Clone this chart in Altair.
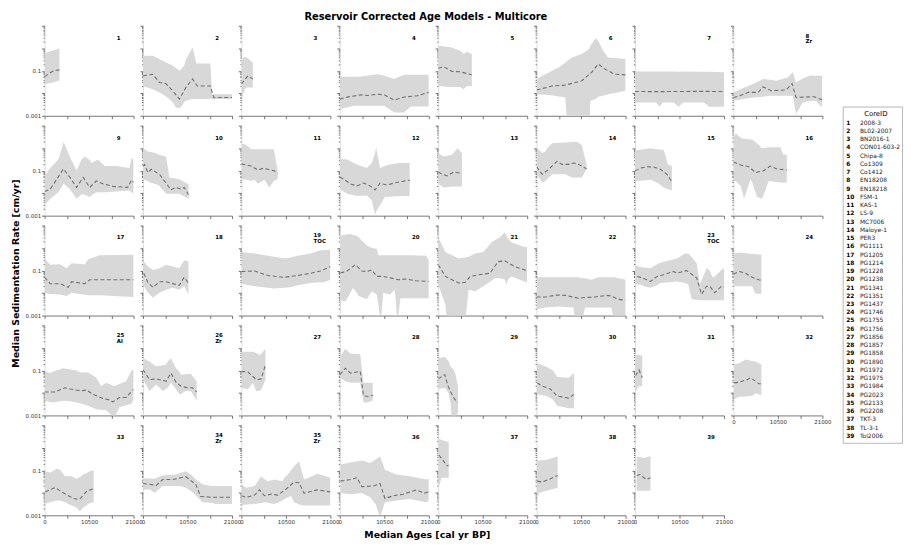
import altair as alt
import pandas as pd

# ---------------- data: (age, lower, upper) band and (age, median) per core ----------------
b01 = [(0, 0.025, 0.6), (1000, 0.028, 0.7), (2000, 0.03, 0.8), (3000, 0.035, 0.9), (3500, 0.036, 1.0)]
m01 = [(0, 0.055), (1000, 0.075), (2100, 0.1), (3500, 0.11)]
b02 = [(0, 0.021, 0.47), (2333, 0.015, 0.47), (4667, 0.009, 0.28), (6200, 0.0055, 0.2), (7000, 0.004, 0.17),
       (7800, 0.0023, 0.13), (8600, 0.0023, 0.1), (8900, 0.0023, 0.11), (9700, 0.004, 0.17), (10100, 0.0047, 0.3),
       (11700, 0.0055, 1.1), (12600, 0.0055, 0.21), (15900, 0.0055, 0.21), (16300, 0.0055, 0.009), (21000, 0.0055, 0.009)]
m02 = [(0, 0.06), (2300, 0.07), (3900, 0.03), (5400, 0.027), (7000, 0.013), (8600, 0.0055), (10100, 0.018),
       (11700, 0.043), (12800, 0.021), (15900, 0.021), (16700, 0.0065), (21000, 0.0065)]
b03 = [(0, 0.0055, 0.33), (800, 0.015, 0.42), (1200, 0.018, 0.4), (2700, 0.018, 0.23)]
m03 = [(0, 0.026), (1556, 0.06), (2700, 0.043)]
b04 = [(0, 0.002, 0.054), (3500, 0.0028, 0.054), (5055, 0.0028, 0.055), (8944, 0.0028, 0.07), (10500, 0.0028, 0.06),
       (12833, 0.0014, 0.043), (15166, 0.0014, 0.066), (16722, 0.0026, 0.066), (21000, 0.0026, 0.066)]
m04 = [(0, 0.0055), (1944, 0.0069), (5055, 0.0085), (6611, 0.008), (8944, 0.009), (10500, 0.0085), (12833, 0.005),
       (15166, 0.0068), (18278, 0.0078), (21000, 0.011)]
b05 = [(0, 0.021, 1.3), (2900, 0.019, 1.1), (5211, 0.019, 0.77), (5989, 0.015, 0.55), (6767, 0.021, 0.7), (7933, 0.021, 0.55)]
m05 = [(0, 0.13), (1322, 0.15), (3266, 0.093), (5211, 0.09), (7933, 0.066)]
b06 = [(0, 0.009, 0.043), (2100, 0.0085, 0.07), (4433, 0.0078, 0.12), (5211, 0.0072, 0.14), (6767, 0.0065, 0.23),
       (7300, 0.0003, 0.28), (8322, 0.0003, 0.39), (10656, 0.0003, 0.55), (11822, 0.0003, 0.77), (12500, 0.0003, 1.0),
       (12700, 0.0047, 1.3), (13922, 0.0055, 2.8), (14544, 0.007, 2.1), (15711, 0.0078, 0.77), (16878, 0.009, 0.39),
       (21000, 0.013, 0.33)]
m06 = [(0, 0.014), (3655, 0.021), (6767, 0.023), (10656, 0.036), (12989, 0.085), (14544, 0.2), (16100, 0.12),
       (18433, 0.07), (21000, 0.066)]
b07 = [(0, 0.0039, 0.093), (5000, 0.0039, 0.093), (5800, 0.0025, 0.093), (6500, 0.0039, 0.093), (9100, 0.0039, 0.093),
       (10300, 0.0025, 0.09), (11400, 0.0039, 0.093), (16300, 0.0039, 0.09), (17500, 0.0025, 0.09), (21000, 0.0025, 0.085)]
m07 = [(0, 0.012), (5000, 0.0118), (10000, 0.012), (15000, 0.0122), (21000, 0.012)]
b08 = [(0, 0.0047, 0.011), (2333, 0.0055, 0.017), (4667, 0.0065, 0.026), (7000, 0.007, 0.043), (8556, 0.0078, 0.04),
       (10111, 0.0078, 0.036), (12833, 0.0078, 0.05), (14000, 0.0078, 0.085), (14778, 0.0012, 0.03),
       (16333, 0.0039, 0.045), (17889, 0.0045, 0.06), (19444, 0.0047, 0.06), (21000, 0.0023, 0.06)]
m08 = [(0, 0.0065), (1556, 0.0078), (3500, 0.011), (5833, 0.011), (7000, 0.019), (8944, 0.013), (12444, 0.014),
       (13844, 0.027), (14778, 0.0065), (17111, 0.0068), (19055, 0.007), (21000, 0.0051)]
b09 = [(0, 0.0029, 0.059), (1322, 0.0056, 0.13), (3266, 0.011, 0.31), (4500, 0.026, 1.9), (5989, 0.015, 0.4),
       (7544, 0.0056, 0.098), (8711, 0.009, 0.31), (9489, 0.0085, 0.43), (10656, 0.0067, 0.3), (11044, 0.008, 0.22),
       (12211, 0.011, 0.28), (12600, 0.011, 0.31), (14155, 0.011, 0.16), (16878, 0.012, 0.16), (19989, 0.013, 0.13),
       (20533, 0.011, 0.37), (21000, 0.0093, 0.31)]
m09 = [(0, 0.012), (1322, 0.015), (2878, 0.042), (4433, 0.12), (5989, 0.05), (7544, 0.018), (9100, 0.05),
       (10656, 0.018), (12211, 0.035), (13766, 0.026), (16100, 0.02), (19600, 0.018), (20533, 0.039), (21000, 0.03)]
b10 = [(0, 0.042, 1.0), (1167, 0.035, 0.72), (1556, 0.03, 0.7), (3111, 0.025, 0.6), (3889, 0.021, 0.5),
       (5444, 0.0093, 0.43), (6222, 0.0093, 0.05), (8556, 0.0093, 0.042), (10500, 0.006, 0.026), (10733, 0.0056, 0.026)]
m10 = [(0, 0.16), (389, 0.19), (1167, 0.082), (1944, 0.115), (3889, 0.069), (5055, 0.035), (6611, 0.014),
       (7778, 0.018), (8944, 0.015), (9722, 0.018), (10733, 0.0085)]
b11 = [(0, 0.042, 1.66), (1167, 0.039, 1.4), (2333, 0.035, 0.9), (3111, 0.039, 0.9), (3889, 0.026, 0.9),
       (5444, 0.039, 0.9), (6611, 0.018, 0.9), (7622, 0.035, 0.9), (8556, 0.042, 0.098)]
m11 = [(0, 0.2), (2333, 0.16), (3889, 0.107), (5055, 0.126), (6222, 0.115), (7778, 0.098), (8556, 0.076)]
b12 = [(0, 0.015, 0.33), (1711, 0.0093, 0.31), (4044, 0.0074, 0.19), (6378, 0.0079, 0.13), (7544, 0.0048, 0.22),
       (8322, 0.0011, 0.6), (8555, 0.0015, 1.17), (9489, 0.0029, 0.13), (10655, 0.0067, 0.16), (11822, 0.007, 0.19),
       (14155, 0.0074, 0.22), (16489, 0.0074, 0.22)]
m12 = [(0, 0.052), (933, 0.042), (2489, 0.026), (4044, 0.021), (5600, 0.028), (7155, 0.021), (8322, 0.014),
       (9489, 0.028), (11044, 0.023), (13378, 0.03), (16489, 0.038)]
b13 = [(0, 0.026, 0.6), (1322, 0.018, 0.43), (3266, 0.02, 0.51), (4589, 0.02, 1.0), (5600, 0.02, 0.6)]
m13 = [(0, 0.087), (933, 0.069), (2100, 0.059), (3655, 0.087), (5600, 0.076)]
b14 = [(0, 0.069, 1.1), (1322, 0.03, 0.6), (2100, 0.035, 0.72), (2489, 0.042, 1.0), (3655, 0.069, 1.66),
       (6767, 0.069, 1.78), (8322, 0.05, 1.9), (9489, 0.05, 1.95), (10656, 0.05, 1.4), (11822, 0.12, 0.19)]
m14 = [(0, 0.15), (1322, 0.069), (2878, 0.115), (4822, 0.26), (5989, 0.19), (7544, 0.19), (8711, 0.22),
       (9878, 0.19), (11822, 0.12)]
b15 = [(0, 0.035, 0.79), (2100, 0.037, 0.9), (3655, 0.039, 1.0), (5211, 0.03, 0.9), (6767, 0.018, 0.84),
       (7778, 0.015, 0.19), (8711, 0.013, 0.16)]
m15 = [(0, 0.098), (1322, 0.13), (2878, 0.15), (4433, 0.145), (5989, 0.115), (7544, 0.069), (8711, 0.032)]
b16 = [(0, 0.035, 3.0), (544, 0.035, 4.5), (1711, 0.021, 3.0), (2100, 0.012, 2.7), (2489, 0.0056, 2.6),
       (4044, 0.042, 2.4), (4433, 0.03, 2.4), (5600, 0.0067, 1.6), (6767, 0.0056, 1.0), (8322, 0.035, 1.1),
       (11044, 0.03, 1.1), (11822, 0.03, 0.51), (12600, 0.03, 0.51)]
m16 = [(0, 0.24), (2100, 0.17), (3655, 0.15), (5211, 0.082), (7155, 0.1), (8711, 0.16), (10266, 0.12), (12600, 0.107)]
b17 = [(0, 0.0103, 0.34), (1322, 0.009, 0.18), (3655, 0.0087, 0.19), (5211, 0.0074, 0.126), (6378, 0.0103, 0.21),
       (9100, 0.0087, 0.19), (9489, 0.0085, 0.19), (10266, 0.008, 0.32), (12989, 0.0079, 0.48), (21000, 0.0067, 0.51)]
m17 = [(0, 0.05), (1322, 0.026), (3655, 0.026), (5600, 0.018), (6378, 0.032), (9489, 0.026), (10656, 0.039), (21000, 0.039)]
b18 = [(0, 0.024, 0.29), (1167, 0.0103, 0.15), (2333, 0.0063, 0.107), (3889, 0.0103, 0.126), (5444, 0.014, 0.18),
       (7000, 0.017, 0.15), (8556, 0.014, 0.126), (9722, 0.02, 0.29), (10733, 0.0087, 0.25)]
m18 = [(156, 0.076), (1167, 0.03), (2333, 0.018), (3889, 0.032), (5444, 0.032), (8556, 0.022), (9722, 0.05), (10733, 0.028)]
b19 = [(0, 0.026, 0.67), (3111, 0.02, 0.57), (7778, 0.016, 0.41), (10111, 0.017, 0.34), (11667, 0.018, 0.38),
       (13222, 0.022, 0.45), (16333, 0.028, 0.57), (18667, 0.03, 0.79), (19444, 0.03, 0.8), (21000, 0.039, 0.87)]
m19 = [(0, 0.09), (3111, 0.096), (6222, 0.06), (10111, 0.05), (13222, 0.06), (16333, 0.076), (18667, 0.096), (21000, 0.15)]
b20 = [(156, 0.0048, 3.5), (1322, 0.0042, 4.0), (2489, 0.01, 4.2), (3111, 0.017, 3.8), (4044, 0.01, 3.5),
       (4433, 0.0074, 3.0), (6378, 0.0053, 1.3), (7544, 0.012, 1.0), (8711, 0.0087, 0.93), (9100, 0.003, 0.48),
       (9644, 0.0005, 0.48), (10266, 0.0103, 0.48), (11822, 0.0087, 0.48), (12989, 0.0145, 0.48), (13611, 0.0005, 0.48),
       (14311, 0.0059, 0.48), (16489, 0.0059, 0.48), (20378, 0.0059, 0.45), (21000, 0.0059, 0.29)]
m20 = [(156, 0.077), (1711, 0.096), (3655, 0.18), (5211, 0.096), (6378, 0.09), (7544, 0.107), (8711, 0.055),
       (10266, 0.055), (12211, 0.046), (13766, 0.039), (15711, 0.042), (18044, 0.035), (21000, 0.033)]
b21 = [(0, 0.024, 3.0), (1711, 0.003, 0.67), (2100, 0.0005, 0.6), (3266, 0.0005, 0.48), (4822, 0.0005, 0.34),
       (6378, 0.0005, 0.38), (7155, 0.014, 0.41), (8711, 0.012, 0.57), (10656, 0.02, 0.67), (12600, 0.035, 1.8),
       (13378, 0.047, 2.2), (14544, 0.045, 3.0), (15711, 0.04, 5.0), (16100, 0.024, 3.5), (16489, 0.04, 2.6),
       (17267, 0.055, 1.8), (20378, 0.033, 1.1), (21000, 0.028, 1.1)]
m21 = [(0, 0.18), (1711, 0.055), (3266, 0.039), (4822, 0.028), (6378, 0.03), (7544, 0.055), (9489, 0.065),
       (12211, 0.076), (14155, 0.25), (15711, 0.27), (18044, 0.15), (20378, 0.107), (21000, 0.1)]
b22 = [(0, 0.0019, 0.05), (2100, 0.0023, 0.05), (5211, 0.0025, 0.05), (8711, 0.0023, 0.05), (9100, 0.0005, 0.05),
       (9878, 0.0005, 0.05), (10656, 0.0005, 0.045), (11433, 0.0023, 0.045), (12989, 0.0023, 0.039),
       (14544, 0.0023, 0.05), (17656, 0.0023, 0.05), (18278, 0.0005, 0.05), (21000, 0.0005, 0.039)]
m22 = [(0, 0.0067), (2100, 0.0067), (4822, 0.0082), (6767, 0.0079), (9878, 0.0059), (11433, 0.0063), (13766, 0.0067),
       (16489, 0.0079), (17656, 0.0074), (19211, 0.0053), (21000, 0.0048)]
b23 = [(0, 0.024, 0.17), (1322, 0.024, 0.14), (2100, 0.02, 0.135), (3655, 0.017, 0.126), (5211, 0.022, 0.19),
       (5989, 0.028, 0.22), (8322, 0.03, 0.29), (9878, 0.033, 0.34), (11822, 0.028, 0.57), (12600, 0.024, 0.57),
       (13378, 0.0053, 0.4), (14544, 0.005, 0.21), (15322, 0.0048, 0.024), (16878, 0.0048, 0.126),
       (17500, 0.0048, 0.107), (18433, 0.0048, 0.047), (20378, 0.0048, 0.107), (21000, 0.0048, 0.126)]
m23 = [(544, 0.055), (2100, 0.044), (3655, 0.033), (5211, 0.055), (6767, 0.065), (9100, 0.091), (9878, 0.076),
       (12211, 0.1), (14544, 0.047), (15711, 0.0087), (16878, 0.02), (17656, 0.02), (18822, 0.0103), (20378, 0.02),
       (21000, 0.018)]
b24 = [(0, 0.02, 0.57), (1322, 0.02, 0.63), (4433, 0.02, 0.55), (5211, 0.0093, 0.53), (6611, 0.0093, 0.52)]
m24 = [(0, 0.069), (1322, 0.091), (2878, 0.076), (4433, 0.05), (5989, 0.039), (6611, 0.037)]
b25 = [(0, 0.0045, 0.091), (1322, 0.004, 0.076), (2100, 0.0038, 0.09), (4433, 0.0045, 0.126), (6378, 0.0042, 0.107),
       (7544, 0.0038, 0.1), (8322, 0.0035, 0.081), (10266, 0.0027, 0.081), (12211, 0.0019, 0.047),
       (13378, 0.0018, 0.02), (14544, 0.0017, 0.028), (16489, 0.0008, 0.02), (17656, 0.0023, 0.025),
       (19211, 0.0028, 0.033), (20378, 0.0032, 0.09), (20766, 0.004, 0.107), (21000, 0.0063, 0.1)]
m25 = [(0, 0.011), (2489, 0.011), (4822, 0.017), (5989, 0.015), (8711, 0.0123), (9878, 0.0135), (11433, 0.0087),
       (13766, 0.0056), (15322, 0.0049), (16100, 0.004), (17656, 0.0063), (19211, 0.0063), (21000, 0.0144)]
b26 = [(0, 0.039, 0.35), (1556, 0.0123, 0.25), (3111, 0.024, 0.15), (4667, 0.0123, 0.17), (5444, 0.015, 0.18),
       (5833, 0.017, 0.25), (6611, 0.028, 0.35), (7778, 0.015, 0.126), (8556, 0.0087, 0.09), (8944, 0.009, 0.065),
       (10111, 0.0123, 0.068), (11278, 0.0123, 0.071), (12678, 0.0045, 0.033)]
m26 = [(0, 0.107), (1556, 0.039), (3111, 0.042), (5444, 0.033), (6611, 0.076), (7778, 0.03), (8944, 0.02),
       (10500, 0.017), (11667, 0.017), (12678, 0.011)]
b27 = [(0, 0.017, 0.68), (1556, 0.0144, 0.68), (2722, 0.028, 0.68), (3500, 0.0123, 0.6), (4278, 0.0125, 0.48),
       (4667, 0.0135, 0.55), (5678, 0.039, 0.93)]
m27 = [(0, 0.091), (1556, 0.085), (3500, 0.039), (4667, 0.042), (5678, 0.18)]
b28 = [(0, 0.047, 0.41), (1322, 0.033, 0.93), (2489, 0.028, 0.56), (4822, 0.028, 0.53), (5600, 0.0038, 0.028),
       (6378, 0.0038, 0.028), (7778, 0.0045, 0.028)]
m28 = [(0, 0.065), (1322, 0.126), (2489, 0.076), (4822, 0.091), (5600, 0.0074), (6767, 0.0069), (7778, 0.0079)]
b29 = [(0, 0.015, 0.35), (1556, 0.017, 0.41), (2489, 0.0097, 0.25), (2878, 0.004, 0.15), (3266, 0.0006, 0.13),
       (3655, 0.0006, 0.107), (4044, 0.0006, 0.07), (4667, 0.0014, 0.02)]
m29 = [(0, 0.042), (1556, 0.065), (2333, 0.02), (3111, 0.0097), (3889, 0.0053), (4667, 0.0038)]
b30 = [(0, 0.0087, 0.22), (2100, 0.0074, 0.15), (3655, 0.0055, 0.107), (4044, 0.0045, 0.09), (4822, 0.0027, 0.051),
       (7544, 0.0021, 0.047), (8867, 0.0021, 0.076)]
m30 = [(156, 0.028), (1322, 0.02), (3266, 0.015), (4822, 0.0074), (6767, 0.0063), (7544, 0.0059), (8867, 0.0087)]
b31 = [(0, 0.0097, 0.48), (778, 0.02, 0.48), (1711, 0.02, 0.45)]
m31 = [(156, 0.059), (933, 0.107), (1711, 0.047)]
b32 = [(156, 0.0053, 0.19), (1322, 0.0067, 0.21), (2878, 0.007, 0.31), (4433, 0.0074, 0.26), (5211, 0.0097, 0.25),
       (6611, 0.0079, 0.18)]
m32 = [(156, 0.028), (1322, 0.03), (3266, 0.039), (4044, 0.047), (5211, 0.033), (5989, 0.0254), (6611, 0.0254)]
b33 = [(0, 0.0032, 0.091), (1322, 0.0038, 0.081), (2878, 0.0045, 0.118), (3655, 0.0045, 0.107), (4822, 0.0038, 0.055),
       (6378, 0.0027, 0.055), (7544, 0.0022, 0.042), (8322, 0.0015, 0.05), (9100, 0.0022, 0.065),
       (9878, 0.0027, 0.075), (10656, 0.0035, 0.091), (11589, 0.0038, 0.1)]
m33 = [(156, 0.011), (1167, 0.0135), (2489, 0.017), (4044, 0.011), (5600, 0.0074), (7155, 0.0053), (8322, 0.0053),
       (10033, 0.0123), (11589, 0.015)]
b34 = [(0, 0.0135, 0.044), (1556, 0.0144, 0.043), (2722, 0.0097, 0.042), (4667, 0.02, 0.059), (7778, 0.02, 0.065),
       (8556, 0.02, 0.075), (10111, 0.017, 0.091), (11278, 0.0123, 0.065), (12444, 0.008, 0.04),
       (14000, 0.0038, 0.024), (16333, 0.0035, 0.02), (17111, 0.0032, 0.02), (21000, 0.0032, 0.02)]
m34 = [(0, 0.026), (1556, 0.024), (3111, 0.0215), (4667, 0.039), (7000, 0.039), (10111, 0.052), (12444, 0.024),
       (13611, 0.0069), (16333, 0.0063), (21000, 0.0063)]
b35 = [(0, 0.0027, 0.024), (1167, 0.003, 0.017), (3111, 0.0032, 0.02), (4667, 0.0035, 0.055), (5444, 0.0038, 0.04),
       (6222, 0.0036, 0.033), (7778, 0.0032, 0.039), (9722, 0.0045, 0.033), (10111, 0.0053, 0.045),
       (11278, 0.0065, 0.076), (11667, 0.0074, 0.1), (12444, 0.0038, 0.15), (13611, 0.003, 0.25),
       (14778, 0.0027, 0.039), (16722, 0.0027, 0.055), (17889, 0.0027, 0.071), (21000, 0.0027, 0.047)]
m35 = [(0, 0.0074), (1167, 0.0063), (3111, 0.0079), (4278, 0.0135), (5444, 0.0074), (7000, 0.0087), (8556, 0.0079),
       (10500, 0.0144), (12444, 0.03), (13611, 0.028), (14778, 0.0097), (17889, 0.0135), (21000, 0.011)]
b36 = [(156, 0.0097, 0.18), (2489, 0.0087, 0.22), (5211, 0.0097, 0.27), (7155, 0.0063, 0.21), (8500, 0.003, 0.3),
       (9489, 0.0008, 0.41), (10655, 0.0038, 0.107), (13378, 0.0045, 0.065), (16489, 0.0053, 0.055),
       (20378, 0.0038, 0.039), (21000, 0.0045, 0.042)]
m36 = [(156, 0.033), (2489, 0.039), (4044, 0.047), (5211, 0.0188), (7933, 0.02), (9489, 0.026), (10655, 0.0056),
       (12600, 0.0074), (14933, 0.0087), (18044, 0.0135), (19989, 0.0097), (21000, 0.011)]
b37 = [(0, 0.0145, 2.6), (778, 0.047, 2.2), (2489, 0.047, 1.8)]
m37 = [(156, 0.48), (1322, 0.25), (2100, 0.16), (2489, 0.16)]
b38 = [(0, 0.0074, 0.25), (389, 0.0074, 0.27), (544, 0.0097, 0.27), (2100, 0.012, 0.29), (4978, 0.017, 0.41)]
m38 = [(156, 0.033), (1322, 0.03), (3266, 0.042), (4978, 0.059)]
b39 = [(389, 0.0123, 0.35), (544, 0.0123, 0.41), (2100, 0.0123, 0.35), (3655, 0.0123, 0.43)]
m39 = [(389, 0.059), (1167, 0.065), (2100, 0.047), (2722, 0.039), (3655, 0.047)]

core_names = ["2008-3", "BL02-2007", "BN2016-1", "CON01-603-2", "Chipa-8", "Co1309", "Co1412", "EN18208",
              "EN18218", "FSM-1", "KAS-1", "LS-9", "MC7006", "Maloye-1", "PER3", "PG1111", "PG1205", "PG1214",
              "PG1228", "PG1238", "PG1341", "PG1351", "PG1437", "PG1746", "PG1755", "PG1756", "PG1856",
              "PG1857", "PG1858", "PG1890", "PG1972", "PG1975", "PG1984", "PG2023", "PG2133", "PG2208",
              "TKT-3", "TL-3-1", "Tol2006"]
proxy_notes = {8: "Zr", 19: "TOC", 23: "TOC", 25: "Al", 26: "Zr", 34: "Zr", 35: "Zr"}
chart_title = "Reservoir Corrected Age Models - Multicore"

x_ticks = [0, 5250, 10500, 15750, 21000]
y_ticks = [m * 10.0 ** e for e in range(-3, 1) for m in range(1, 10)] + [10.0]

bands = [b01, b02, b03, b04, b05, b06, b07, b08, b09, b10, b11, b12, b13, b14, b15, b16, b17, b18, b19, b20,
         b21, b22, b23, b24, b25, b26, b27, b28, b29, b30, b31, b32, b33, b34, b35, b36, b37, b38, b39]
meds = [m01, m02, m03, m04, m05, m06, m07, m08, m09, m10, m11, m12, m13, m14, m15, m16, m17, m18, m19, m20,
        m21, m22, m23, m24, m25, m26, m27, m28, m29, m30, m31, m32, m33, m34, m35, m36, m37, m38, m39]

FONT = "DejaVu Sans"
PW, PH = 90, 91
AXC = "#555555"
MAJOR = ("datum.value == 0.001 || datum.value == 0.01 || datum.value == 0.1 "
         "|| datum.value == 1 || datum.value == 10")


def legend_layer():
    """Core-ID list drawn to the right of the top-right panel (its own linear y scale)."""
    leg_df = pd.DataFrame({"idx": list(range(1, 40)),
                           "num": [str(k) for k in range(1, 40)],
                           "name": core_names})
    ls = alt.Scale(domain=[-10.76, 0.16], reverse=True, nice=False, zero=False)
    x0 = 111
    box = alt.Chart(pd.DataFrame({"a": [0]})).mark_rect(
        fill="#ffffff", stroke="#9a9a9a", strokeWidth=0.7).encode(
        x=alt.value(x0), x2=alt.value(x0 + 60),
        y=alt.datum(-0.9, scale=ls, axis=None), y2=alt.datum(39.9))
    ttl = alt.Chart(pd.DataFrame({"t": ["CoreID"]})).mark_text(
        fontSize=7, font=FONT, color="#000000", baseline="middle").encode(
        x=alt.value(x0 + 33), y=alt.datum(0, scale=ls, axis=None), text="t:N")
    num = alt.Chart(leg_df).mark_text(
        align="left", baseline="middle", fontSize=6, fontWeight="bold", font=FONT, color="#000000").encode(
        x=alt.value(x0 + 3), y=alt.Y("idx:Q", scale=ls, axis=None), text="num:N")
    name = alt.Chart(leg_df).mark_text(
        align="left", baseline="middle", fontSize=6, font=FONT, color="#222222",
        limit=42, ellipsis="\u200b").encode(
        x=alt.value(x0 + 17), y=alt.Y("idx:Q", scale=ls, axis=None), text="name:N")
    return alt.layer(box, ttl, num, name)


def make_panel(i):
    col = (i - 1) % 8
    show_y = col == 0
    show_x = i >= 32
    ykw = dict(values=y_ticks, labels=show_y, grid=False, domain=True, domainColor="#c8c8c8",
               domainWidth=0.6, tickColor="#444444", tickWidth=0.8,
               tickSize={"condition": {"test": MAJOR, "value": 3}, "value": 1.5},
               labelExpr="datum.value == 0.001 ? '0.001' : (datum.value == 0.1 ? '0.1' : '')",
               labelFontSize=5.5, labelColor="#333333", labelPadding=1, labelOverlap=False, title=None)
    if i == 17:
        ykw.update(title="Median Sedimentation Rate [cm/yr]", titleX=-29, titleY=48, titleFontSize=9.5,
                   titleFontWeight="bold", titleColor="#000000", titleBaseline="middle", titleAngle=270)
    xkw = dict(values=x_ticks, labels=show_x, grid=False, domainColor=AXC, domainWidth=0.8, tickColor=AXC,
               tickWidth=0.8, tickSize=3, labelFlush=False, labelOverlap=False, labelFontSize=5.5,
               labelColor="#333333", labelPadding=1,
               labelExpr="datum.value == 0 ? '0' : (datum.value == 10500 ? '10500' : (datum.value == 21000 ? '21000' : ''))",
               title=None)
    if i == 36:
        xkw.update(title="Median Ages [cal yr BP]", titleX=88, titleY=19, titleFontSize=9.5,
                   titleFontWeight="bold", titleColor="#000000", titleBaseline="middle")
    xax = alt.Axis(**xkw)
    yax = alt.Axis(**ykw)
    xs = alt.Scale(domain=[0, 21000], nice=False, zero=False)
    ys = alt.Scale(type="log", domain=[0.001, 10], nice=False)

    dfb = pd.DataFrame(bands[i - 1], columns=["age", "lo", "hi"])
    dfm = pd.DataFrame(meds[i - 1], columns=["age", "med"])
    band = alt.Chart(dfb).mark_area(color="#d8d8d8", clip=True, opacity=1).encode(
        x=alt.X("age:Q", scale=xs, axis=xax),
        y=alt.Y("lo:Q", scale=ys, axis=yax),
        y2="hi:Q",
    )
    line = alt.Chart(dfm).mark_line(color="#707070", strokeDash=[4, 2.5], strokeWidth=1.1, clip=True).encode(
        x=alt.X("age:Q", scale=xs, axis=xax),
        y=alt.Y("med:Q", scale=ys, axis=yax),
    )
    note = proxy_notes.get(i)
    num_y = 10 if note else 12
    lab = alt.Chart(pd.DataFrame({"t": [str(i)]})).mark_text(
        align="left", baseline="middle", fontSize=5.5, fontWeight="bold", font=FONT, color="#000000"
    ).encode(x=alt.value(73), y=alt.value(num_y), text="t:N")
    layers = [band, line, lab]
    if note:
        lab2 = alt.Chart(pd.DataFrame({"t": [note]})).mark_text(
            align="left", baseline="middle", fontSize=5.5, fontWeight="bold", font=FONT, color="#000000"
        ).encode(x=alt.value(73), y=alt.value(15.5), text="t:N")
        layers.append(lab2)
    if i == 4:
        # overall chart title, centred over the grid (sits above the 4th/5th panels)
        ttl = alt.Chart(pd.DataFrame({"t": [chart_title]})).mark_text(
            align="center", baseline="middle", fontSize=10, fontWeight="bold", font=FONT, color="#000000"
        ).encode(x=alt.value(87), y=alt.value(-9), text="t:N")
        layers.append(ttl)
    core = alt.layer(*layers)
    if i == 8:
        core = alt.layer(core, legend_layer()).resolve_scale(y="independent")
    return core.properties(width=PW, height=PH)


panels = [make_panel(i) for i in range(1, 40)]

chart = alt.concat(
    *panels, columns=8, spacing={"row": 10, "column": 9.5}, bounds="flush",
).properties(
    padding={"left": 2, "top": 1, "right": 0, "bottom": 0}
).configure_view(stroke=None).configure_axis(labelFont=FONT, titleFont=FONT)

chart.save("out.html", embed_options={"renderer": "svg", "actions": False})
